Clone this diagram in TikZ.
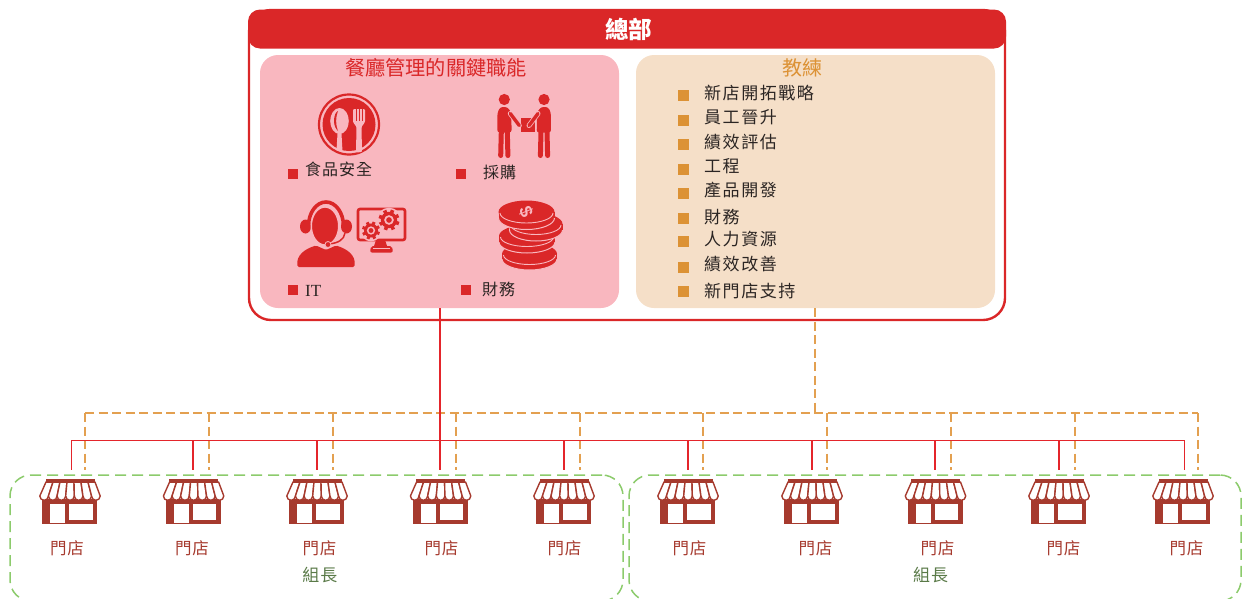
\documentclass[tikz,border=0pt]{standalone}
\usepackage{fontspec}
\setmainfont{Liberation Serif}
\newfontfamily\cjk{Noto Sans CJK TC}
\newfontfamily\lsans{Liberation Sans}
\usetikzlibrary{calc}
\definecolor{hqred}{HTML}{DA2728}
\definecolor{busred}{HTML}{E4252B}
\definecolor{pinkp}{HTML}{F9B7BF}
\definecolor{creamp}{HTML}{F5DFC8}
\definecolor{orangec}{HTML}{DC9235}
\definecolor{orangel}{HTML}{E3A050}
\definecolor{storec}{HTML}{A63A2E}
\definecolor{greenl}{HTML}{8CCB6C}
\definecolor{greent}{HTML}{5A7A48}
\definecolor{bodyt}{HTML}{2B2523}
\newcommand{\sz}[1]{\fontsize{#1}{#1}\selectfont}
\newcommand{\gearicon}[3]{%
  \fill[pinkp] (#1,#2) circle[radius=#3+1.8];
  \foreach \a in {0,45,...,315}{\draw[hqred,line width=.34*#3 pt] (#1,#2) -- ++(\a+20:#3);}
  \fill[hqred] (#1,#2) circle[radius=.78*#3];
  \fill[pinkp] (#1,#2) circle[radius=.46*#3];
  \fill[hqred] (#1,#2) circle[radius=.27*#3];}
\newcommand{\coinicon}[5]{%
  \fill[hqred,draw=pinkp,line width=1pt] (#1,#2+#5) ellipse[x radius=#3,y radius=#4];
  \fill[hqred] (#1-#3,#2) rectangle (#1+#3,#2+#5);
  \fill[hqred] (#1,#2) ellipse[x radius=#3,y radius=#4];
  \draw[pinkp,line width=.9pt] (#1-#3+1.5,#2+1) arc[start angle=180,end angle=360,x radius=#3pt-1.5pt,y radius=#4pt-1.5pt];}
\tikzset{
  x=1pt,y=-1pt,
  panel/.style={rounded corners=18pt,minimum width=359pt,minimum height=253pt,inner sep=0pt,draw=none},
  bodytext/.style={anchor=west,inner sep=0pt,text=bodyt,font=\cjk\sz{17}\addfontfeature{LetterSpace=9}},
  keytext/.style={anchor=west,inner sep=0pt,text=bodyt,font=\cjk\sz{16}\addfontfeature{LetterSpace=6}},
  storetext/.style={inner sep=0pt,text=storec,font=\cjk\sz{16.5}\addfontfeature{LetterSpace=6}},
  leadtext/.style={inner sep=0pt,text=greent,font=\cjk\sz{17}\addfontfeature{LetterSpace=6}},
  orangeline/.style={draw=orangel,line width=1.3pt,dash pattern=on 9pt off 4.5pt},
  redline/.style={draw=busred,line width=1.9pt},
  busline/.style={draw=busred,line width=1pt},
  storeslot/.style={inner sep=0pt,minimum width=63pt,minimum height=45pt},
  leadbox/.style={draw=greenl,line width=1.5pt,dash pattern=on 11pt off 6pt,rounded corners=21pt,inner sep=0pt},
  store/.pic={
    \fill[storec] (-27.6,20) rectangle (27,45);
    \fill[white] (-19.8,25) rectangle (-5,43.5);
    \fill[white] (-.8,25) rectangle (22.8,41);
    \foreach \i in {0,...,6}{
      \pgfmathsetmacro{\xa}{-24+7*\i}\pgfmathsetmacro{\xb}{-24+7*(\i+1)}
      \pgfmathsetmacro{\xc}{-30.2+8.63*\i}\pgfmathsetmacro{\xd}{-30.2+8.63*(\i+1)}
      \filldraw[fill=white,draw=storec,line width=1.4pt,line join=round]
        (\xa,3) -- (\xc,17) arc[start angle=180,end angle=360,radius=4.315pt] -- (\xb,3) -- cycle;
    }
    \fill[storec] (-24.5,0) rectangle (24.5,4);
  },
  person/.pic={
    \fill[hqred] (0,-6) circle[radius=5.6];
    \fill[hqred,rounded corners=2.5pt] (-7,27) -- (-6.8,7) -- (-4,1.5) -- (3,1.5) -- (7,7) -- (7.3,27) -- cycle;
    \draw[hqred,line width=5pt,line cap=round] (-3,26) -- (-3.6,50);
    \draw[hqred,line width=5pt,line cap=round] (3,26) -- (3.6,50);
    \draw[pinkp,line width=5pt,line cap=round] (6,8) -- (15,20);
    \draw[hqred,line width=3.4pt,line cap=round] (6,8) -- (15,20);
  }
}
\begin{document}
\begin{tikzpicture}
\useasboundingbox (0,0) rectangle (1242,598);
\clip (0,0) rectangle (1242,598);

% green lead boxes
\node[leadbox,minimum width=613pt,minimum height=126pt] (leadA) at (316.5,538) {};
\node[leadbox,minimum width=612pt,minimum height=126pt] (leadB) at (935,538) {};

% head office frame
\node[draw=hqred,line width=2.4pt,rounded corners=22pt,minimum width=756pt,minimum height=310pt,inner sep=0pt] (frame) at (627,165) {};
\node[fill=hqred,rounded corners=12pt,minimum width=758pt,minimum height=39pt,inner sep=0pt] (hq) at (627,29) {};
\node[inner sep=0pt,text=white,font=\cjk\bfseries\sz{23.5}] (hqt) at (628.5,29) {總部};

% panels
\node[panel,fill=pinkp] (fn) at (439.5,181.5) {};
\node[panel,fill=creamp] (coach) at (815.5,181.5) {};
\node[inner sep=0pt,text=hqred,font=\cjk\sz{20.2}] (fnt) at (436,68) {餐廳管理的關鍵職能};
\node[inner sep=0pt,text=orangec,font=\cjk\sz{20}] (cot) at (802,68) {教練};

% plate icon
\draw[hqred,line width=2.2pt] (349,124.5) circle[radius=30];
\fill[hqred] (349,124.5) circle[radius=26.5];
\fill[pinkp] (339.5,121) ellipse[x radius=9.3,y radius=13];
\fill[pinkp] (337.6,132) -- (341.4,132) -- (342.5,151.5) -- (336.5,150.5) -- cycle;
\fill[hqred] (334,121) .. controls (334,115) and (336,112) .. (338,111) .. controls (335.5,117) and (335.5,125) .. (338,131) .. controls (336,129) and (334,126) .. cycle;
\fill[pinkp,rounded corners=1pt] (353,109) -- (365,109) -- (365,122) -- (361.5,127) -- (362,152) -- (356,152.5) -- (356.5,127) -- (353,122) -- cycle;
\draw[hqred,line width=.9pt] (356,109) -- (356,121) (359,109) -- (359,121) (362,109) -- (362,121);

% people icon
\fill[hqred] (521,117.5) rectangle (535,132);
\pic at (504.3,105.5) {person};
\pic[xscale=-1] at (544,105.5) {person};

% agent icon
\fill[hqred,rounded corners=1.5pt] (297.5,267) .. controls (296,255) and (305,249) .. (316,245.5) -- (326,250) -- (336,245.5) .. controls (347,249) and (356,255) .. (354.5,267) -- cycle;
\fill[hqred] (305.5,226.5) ellipse[x radius=5.5,y radius=7];
\fill[hqred] (346.5,226.5) ellipse[x radius=5.5,y radius=7];
\draw[hqred,line width=3.6pt] (308.5,226) arc[start angle=180,end angle=0,x radius=17.5pt,y radius=24pt];
\fill[hqred,draw=pinkp,line width=1.4pt] (325,226) ellipse[x radius=13.7,y radius=19];
\draw[pinkp,line width=3pt] (345,233) .. controls (344,240) and (338,243) .. (329,244);
\draw[hqred,line width=1.5pt] (345,233) .. controls (344,240) and (338,243) .. (329,244);
\fill[hqred,draw=pinkp,line width=.8pt] (328,244.5) circle[radius=3];

% monitor icon
\draw[hqred,line width=2.6pt,rounded corners=2pt] (358,209) rectangle (405,240);
\fill[hqred] (376,240) -- (385,240) -- (387,246) -- (374,246) -- cycle;
\fill[hqred,rounded corners=2pt] (370,252.5) -- (371,246) -- (392,246) -- (393,252.5) -- cycle;
\draw[pinkp,line width=.8pt] (373,248) -- (390,248);
\gearicon{389}{220}{10.5}
\gearicon{371}{230.5}{9}

% coins icon
\coinicon{529.5}{254}{27.5}{11}{5}
\coinicon{527}{236}{28}{11}{6}
\coinicon{536}{224}{26.5}{11}{6}
\coinicon{526.5}{212}{28}{11.5}{6}
\node[inner sep=0pt,rotate=-68,text=pinkp,font=\lsans\bfseries\sz{18}] (dollar) at (526,212) {\$};

% key functions
\fill[hqred] (287.7,168.7) rectangle (297.7,178.7);
\fill[hqred] (456,168.7) rectangle (466,178.7);
\fill[hqred] (287.7,285) rectangle (297.7,295);
\fill[hqred] (461,285) rectangle (471,295);
\node[keytext] (k1) at (305,169) {食品安全};
\node[keytext] (k2) at (483,172) {採購};
\node[inner sep=0pt,anchor=west,text=bodyt,font=\sz{17}] (k3) at (305,291) {IT};
\node[keytext] (k4) at (482,289) {財務};

% coaching list
\foreach \by/\ty/\tx [count=\n] in {
  95/93.3/新店開拓戰略,120/117.3/員工晉升,144.3/141.7/績效評估,169/165.7/工程,
  193/190/產品開發,218/217.3/財務,241.7/238.7/人力資源,267/264/績效改善,291/291/新門店支持}{
  \fill[orangec] (677.8,\by-5.5) rectangle (689,\by+5.5);
  \node[bodytext] (c\n) at (704,\ty) {\tx};
}

% bus coordinates
\coordinate (redhub) at (440,440);
\coordinate (redend) at (440,470);
\coordinate (orhub) at (815,413);
\coordinate (orl) at (85,413);
\coordinate (orr) at (1198,413);
\coordinate (redl) at (71,440);
\coordinate (redr) at (1184,440);

% orange network
\draw[orangeline] (coach.south -| orhub) -- (orhub);
\draw[orangeline] (orl) -- (orr);
\foreach \xx [count=\n] in {85,209,333,456,580,703,827,951,1075,1198}{
  \coordinate (ot\n) at (\xx,413);
  \coordinate (oe\n) at (\xx,470);
  \draw[orangeline] (ot\n) -- (oe\n);
}

% red network
\draw[redline] (fn.south -| redhub) -- (redend);
\draw[busline] (redl) -- (redr);
\foreach \xx [count=\n] in {71,193,317,564,688,812,935,1059,1184}{
  \coordinate (rt\n) at (\xx,440);
  \coordinate (re\n) at (\xx,470);
}
\draw[busline] (rt1) -- (re1);
\draw[busline] (rt9) -- (re9);
\foreach \n in {2,...,8}{\draw[redline] (rt\n) -- (re\n);}

% stores
\foreach \cx/\lx [count=\n] in {70/67,193.6/192,317/319.5,440.6/441.5,564/564.5,688/689.5,812/815.5,935.5/937.5,1059/1063.5,1183/1186.5}{
  \node[storeslot] (s\n) at (\cx,501.5) {};
  \pic at (\cx,479) {store};
  \node[storetext] (st\n) at (\lx,548) {門店};
}
\node[leadtext] (la) at (320,575.5) {組長};
\node[leadtext] (lb) at (930.5,575.5) {組長};
\end{tikzpicture}
\end{document}
